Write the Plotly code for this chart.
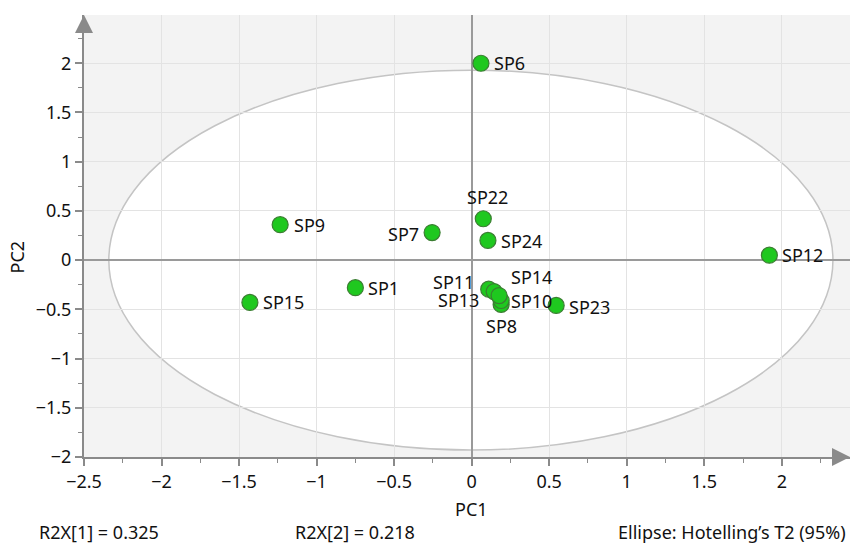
import plotly.graph_objects as go

# ---- data ----
names = ["SP1", "SP6", "SP7", "SP8", "SP9", "SP10", "SP11", "SP12",
         "SP13", "SP14", "SP15", "SP22", "SP23", "SP24"]
pc1 = [-0.75, 0.06, -0.255, 0.19, -1.235, 0.19, 0.11, 1.92,
       0.145, 0.177, -1.43, 0.075, 0.545, 0.105]
pc2 = [-0.28, 2.0, 0.28, -0.45, 0.36, -0.41, -0.295, 0.05,
       -0.32, -0.36, -0.43, 0.42, -0.46, 0.20]

# Hotelling's T2 ellipse (95%) semi-axes
ell_cx, ell_cy = -0.005, 0.0
ell_a, ell_b = 2.335, 1.93

r2x = ["R2X[1] = 0.325", "R2X[2] = 0.218"]
ellipse_note = "Ellipse: Hotelling\u2019s T2 (95%)"

# label placement (style): anchor, xshift, yshift in px
label_style = {
    "SP1": ("left", 11, 0), "SP6": ("left", 11, 0), "SP7": ("right", -11, -1),
    "SP8": ("center", 0, -22), "SP9": ("left", 12, 0), "SP10": ("left", 8, -1),
    "SP11": ("right", -13, 7), "SP12": ("left", 11, 0), "SP13": ("right", -13, -8),
    "SP14": ("left", 10, 19), "SP15": ("left", 11, 0), "SP22": ("center", 4, 22),
    "SP23": ("left", 11, -2), "SP24": ("left", 11, -1),
}

FONT = "Noto Sans"
FS = 18
AXIS_COL = "#8a8a8a"

xr = [-2.5, 2.44]
yr = [-2.0, 2.49]

fig = go.Figure()

fig.add_trace(go.Scatter(
    x=pc1, y=pc2, mode="markers",
    marker=dict(size=16, color="#1fc81f",
                line=dict(color="#3b7d32", width=1.2)),
    hoverinfo="text", text=names, showlegend=False, cliponaxis=False,
))

# arrow heads at the ends of the axes
fig.add_trace(go.Scatter(
    x=[xr[0], xr[1]], y=[yr[1], yr[0]], mode="markers",
    marker=dict(symbol=["arrow-up", "arrow-right"], size=18, color=AXIS_COL,
                line=dict(width=0)),
    hoverinfo="skip", showlegend=False, cliponaxis=False,
))

annotations = []
for n, xv, yv in zip(names, pc1, pc2):
    anc, xs, ys = label_style[n]
    annotations.append(dict(x=xv, y=yv, xref="x", yref="y", text=n,
                            showarrow=False, xanchor=anc, yanchor="middle",
                            xshift=xs, yshift=ys,
                            font=dict(family=FONT, size=FS, color="#111")))

# axis titles
annotations.append(dict(x=0, y=0, xref="x", yref="paper", text="PC1",
                        showarrow=False, yanchor="middle", yshift=-52,
                        font=dict(family=FONT, size=FS, color="#111")))
annotations.append(dict(x=-0.087, y=0, xref="paper", yref="y", text="PC2",
                        showarrow=False, textangle=-90, xanchor="center",
                        yanchor="middle", yshift=3,
                        font=dict(family=FONT, size=FS, color="#111")))
# footer
annotations.append(dict(x=-0.061, y=0, xref="paper", yref="paper", text=r2x[0],
                        showarrow=False, xanchor="left", yanchor="middle", yshift=-75,
                        font=dict(family=FONT, size=FS, color="#111")))
annotations.append(dict(x=0.273, y=0, xref="paper", yref="paper", text=r2x[1],
                        showarrow=False, xanchor="left", yanchor="middle", yshift=-75,
                        font=dict(family=FONT, size=FS, color="#111")))
annotations.append(dict(x=0.997, y=0, xref="paper", yref="paper", text=ellipse_note,
                        showarrow=False, xanchor="right", yanchor="middle", yshift=-75,
                        font=dict(family=FONT, size=FS, color="#111")))

shapes = [
    dict(type="circle", xref="x", yref="y", layer="below",
         x0=ell_cx - ell_a, x1=ell_cx + ell_a, y0=ell_cy - ell_b, y1=ell_cy + ell_b,
         fillcolor="white", line=dict(color="#c4c4c4", width=1.5)),
]

axis_common = dict(
    showline=True, linecolor=AXIS_COL, linewidth=2,
    ticks="outside", ticklen=7, tickwidth=1.5, tickcolor=AXIS_COL,
    showgrid=True, gridcolor="#e3e3e3", gridwidth=1,
    zeroline=True, zerolinecolor="#9a9a9a", zerolinewidth=1.5,
    tickmode="linear", tick0=0, dtick=0.5,
    minor=dict(dtick=0.25, ticks="outside", ticklen=4, tickcolor=AXIS_COL,
               tickwidth=1.2, showgrid=False),
    tickfont=dict(family=FONT, size=FS, color="#111"),
    fixedrange=True,
)

fig.update_layout(
    width=852, height=546,
    margin=dict(l=84, r=2, t=15, b=89),
    paper_bgcolor="white", plot_bgcolor="#f3f3f3",
    xaxis=dict(range=xr, **axis_common),
    yaxis=dict(range=yr, **axis_common),
    shapes=shapes, annotations=annotations,
    font=dict(family=FONT, size=FS, color="#111"),
)

fig.write_html("out.html", config={"displayModeBar": False},
               post_script="document.body.style.margin='0px';document.body.style.overflow='hidden';")
